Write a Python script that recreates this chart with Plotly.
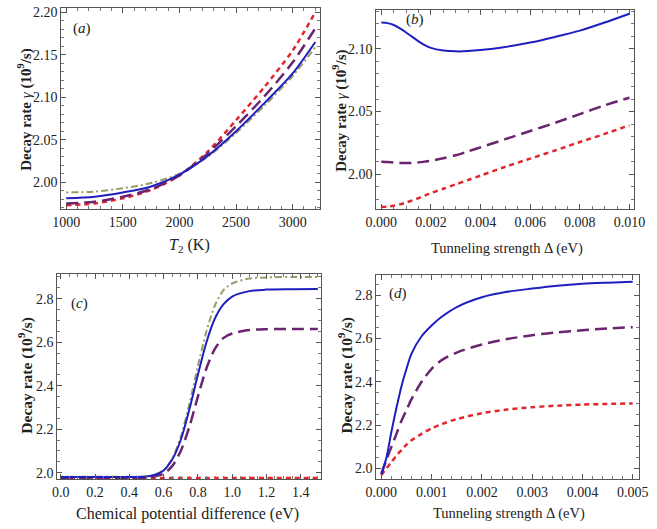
import plotly.graph_objects as go

# ---------------- Panel (a): decay rate vs T2 ----------------
a_T2 = [1000, 1250, 1500, 1750, 2000, 2250, 2500, 2750, 3000, 3200]
a_solid = [1.981, 1.983, 1.988, 1.995, 2.009, 2.031, 2.060, 2.093, 2.128, 2.165]
a_longdash = [1.975, 1.977, 1.983, 1.992, 2.008, 2.034, 2.066, 2.101, 2.141, 2.181]
a_shortdash = [1.973, 1.975, 1.981, 1.991, 2.008, 2.036, 2.073, 2.112, 2.155, 2.200]
a_dotdash = [1.988, 1.989, 1.993, 1.999, 2.010, 2.030, 2.058, 2.090, 2.125, 2.159]

# ---------------- Panel (b): decay rate vs tunneling strength ----------------
b_delta = [0.0, 0.00025, 0.0005, 0.00075, 0.001, 0.00125, 0.0015, 0.00175, 0.002, 0.0025, 0.003,
           0.0035, 0.004, 0.005, 0.006, 0.007, 0.008, 0.009, 0.010]
b_solid = [2.121, 2.1205, 2.119, 2.1163, 2.113, 2.1095, 2.106, 2.103, 2.1008, 2.0987, 2.098,
           2.0982, 2.099, 2.1015, 2.105, 2.1095, 2.1145, 2.121, 2.128]
b_longdash = [2.010, 2.0098, 2.0094, 2.0091, 2.009, 2.0091, 2.0095, 2.0101, 2.0108, 2.0128, 2.0152,
              2.0183, 2.0215, 2.028, 2.0345, 2.041, 2.048, 2.055, 2.061]
b_shortdash = [1.974, 1.9743, 1.975, 1.976, 1.9775, 1.9792, 1.981, 1.983, 1.985, 1.9885, 1.992,
               1.9955, 1.999, 2.006, 2.0125, 2.019, 2.0257, 2.0322, 2.039]

# ---------------- Panel (c): decay rate vs chemical potential difference ----------------
c_mu = [0.0, 0.2, 0.4, 0.5, 0.55, 0.6, 0.65, 0.7, 0.75, 0.8, 0.85, 0.9, 0.95, 1.0, 1.1, 1.2, 1.35, 1.5]
c_solid = [1.980, 1.980, 1.980, 1.982, 1.990, 2.010, 2.060, 2.150, 2.290, 2.450, 2.600, 2.710, 2.775, 2.810, 2.835, 2.842, 2.844, 2.845]
c_longdash = [1.976, 1.976, 1.976, 1.977, 1.983, 1.995, 2.030, 2.100, 2.210, 2.350, 2.480, 2.570, 2.620, 2.640, 2.656, 2.660, 2.661, 2.661]
c_shortdash = [1.975, 1.975, 1.975, 1.975, 1.975, 1.975, 1.975, 1.975, 1.975, 1.975, 1.975, 1.975, 1.975, 1.975, 1.975, 1.975, 1.975, 1.975]
c_dotdash = [1.981, 1.981, 1.981, 1.983, 1.991, 2.012, 2.065, 2.165, 2.315, 2.490, 2.650, 2.770, 2.840, 2.870, 2.893, 2.898, 2.900, 2.900]

# ---------------- Panel (d): decay rate vs tunneling strength ----------------
d_delta = [0.0, 0.0001, 0.0002, 0.0003, 0.0004, 0.0005, 0.0006, 0.0008, 0.001, 0.0012, 0.0015,
           0.002, 0.0025, 0.003, 0.0035, 0.004, 0.0045, 0.005]
d_solid = [1.975, 2.050, 2.170, 2.280, 2.380, 2.460, 2.530, 2.610, 2.660, 2.700, 2.745,
           2.790, 2.815, 2.830, 2.843, 2.852, 2.857, 2.861]
d_longdash = [1.975, 2.040, 2.100, 2.160, 2.220, 2.270, 2.320, 2.400, 2.460, 2.500, 2.535,
              2.572, 2.597, 2.615, 2.628, 2.638, 2.646, 2.652]
d_shortdash = [1.970, 2.000, 2.030, 2.060, 2.085, 2.110, 2.130, 2.160, 2.185, 2.205, 2.228,
               2.255, 2.272, 2.283, 2.290, 2.295, 2.298, 2.300]

BLUE = "#1f1fbf"
PURPLE = "#6a2470"
RED = "#e0282c"
OLIVE = "#9a9a6a"
FONT = "Liberation Serif"

W, H = 657, 529

def px_dom_x(x0, x1):
    return [x0 / W, x1 / W]

def px_dom_y(y0, y1):
    return [1 - y1 / H, 1 - y0 / H]

fig = go.Figure()

def add(x, y, color, dash, width, xa, ya):
    fig.add_trace(go.Scatter(x=x, y=y, mode="lines",
                             line=dict(color=color, dash=dash, width=width, shape="spline", smoothing=0.8),
                             xaxis=xa, yaxis=ya, showlegend=False, hoverinfo="skip"))

LD = "12px,6px"
SD = "5px,4px"
DD = "2px,3px,7px,3px"

# (a)
add(a_T2, a_dotdash, OLIVE, DD, 2, "x", "y")
add(a_T2, a_shortdash, RED, SD, 2.5, "x", "y")
add(a_T2, a_longdash, PURPLE, LD, 2.5, "x", "y")
add(a_T2, a_solid, BLUE, "solid", 2, "x", "y")
# (b)
add(b_delta, b_shortdash, RED, SD, 2.5, "x2", "y2")
add(b_delta, b_longdash, PURPLE, LD, 2.5, "x2", "y2")
add(b_delta, b_solid, BLUE, "solid", 2, "x2", "y2")
# (c)
add(c_mu, c_dotdash, OLIVE, DD, 2, "x3", "y3")
add(c_mu, c_shortdash, RED, SD, 2.5, "x3", "y3")
add(c_mu, c_longdash, PURPLE, LD, 2.5, "x3", "y3")
add(c_mu, c_solid, BLUE, "solid", 2, "x3", "y3")
# (d)
add(d_delta, d_shortdash, RED, SD, 2.5, "x4", "y4")
add(d_delta, d_longdash, PURPLE, LD, 2.5, "x4", "y4")
add(d_delta, d_solid, BLUE, "solid", 2, "x4", "y4")

def axis(domain, rng, dtick, minor_dtick, fmt, anchor, tick0=0):
    return dict(domain=domain, range=rng, dtick=dtick, tick0=tick0, tickformat=fmt,
                anchor=anchor, showgrid=False, zeroline=False,
                showline=True, linecolor="#555555", linewidth=1, mirror="allticks",
                ticks="inside", ticklen=5, tickwidth=1, tickcolor="#555555",
                minor=dict(dtick=minor_dtick, ticks="inside", ticklen=3, tickcolor="#777777", showgrid=False),
                tickfont=dict(family=FONT, size=14, color="#222222"))

fig.update_layout(
    width=W, height=H, margin=dict(l=0, r=0, t=0, b=0),
    paper_bgcolor="white", plot_bgcolor="white",
    xaxis=axis(px_dom_x(52, 320), [956, 3244], 500, 100, "d", "y"),
    yaxis=axis(px_dom_y(5, 208), [1.968, 2.205], 0.05, 0.01, ".2f", "x"),
    xaxis2=axis(px_dom_x(378, 645), [-0.0002, 0.0102], 0.002, 0.0005, ".3f", "y2"),
    yaxis2=axis(px_dom_y(7, 208), [1.972, 2.131], 0.05, 0.01, ".2f", "x2"),
    xaxis3=axis(px_dom_x(48, 321), [-0.02, 1.52], 0.2, 0.05, ".1f", "y3"),
    yaxis3=axis(px_dom_y(273, 480), [1.969, 2.914], 0.2, 0.05, ".1f", "x3"),
    xaxis4=axis(px_dom_x(378, 650), [-0.0001, 0.00513], 0.001, 0.0002, ".3f", "y4"),
    yaxis4=axis(px_dom_y(274, 480), [1.95, 2.893], 0.2, 0.05, ".1f", "x4"),
)

def ann(text, xpx, ypx, size=14, angle=0):
    fig.add_annotation(text=text, x=xpx / W, y=1 - ypx / H, xref="paper", yref="paper",
                       showarrow=False, textangle=angle, xanchor="center", yanchor="middle",
                       font=dict(family=FONT, size=size, color="#222222"))

ytitle_g = "<b>Decay rate</b> <i>γ</i> <b>(10<sup>9</sup>/s)</b>"
ytitle = "<b>Decay rate (10<sup>9</sup>/s)</b>"
ann(ytitle_g, 14, 108, 15, -90)
ann(ytitle_g, 340, 109, 15, -90)
ann(ytitle, 15, 375, 15.5, -90)
ann(ytitle, 346, 375, 15.5, -90)

ann("<i>T</i><sub>2</sub> (K)", 185, 244, 16)
ann("Tunneling strength Δ (eV)", 513, 247, 14.5)
ann("Chemical potential difference (eV)", 183, 515, 16)
ann("Tunneling strength Δ (eV)", 515, 514, 14.5)

ann("(<i>a</i>)", 73, 26, 15)
ann("(<i>b</i>)", 418, 17, 15)
ann("(<i>c</i>)", 71, 303, 15)
ann("(<i>d</i>)", 400, 293, 15)

fig.write_html("out.html", config={"displayModeBar": False},
               post_script="document.body.style.margin='0';document.body.style.padding='0';"
                           "document.body.style.overflow='hidden';")
